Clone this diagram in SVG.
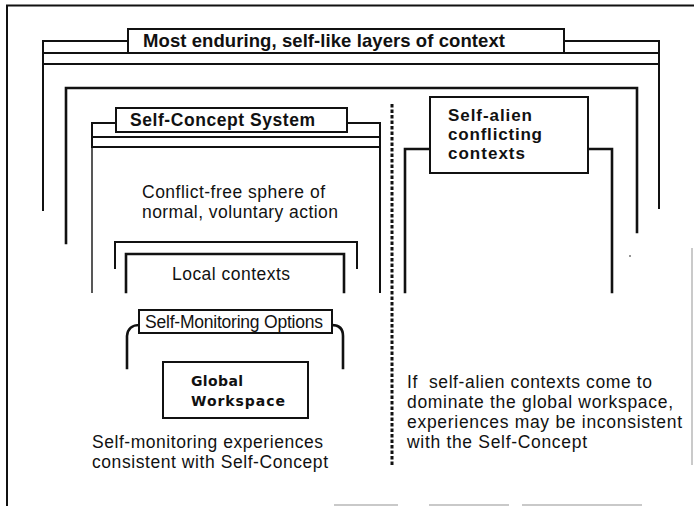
<svg xmlns="http://www.w3.org/2000/svg" width="694" height="506" viewBox="0 0 694 506">
<style>
.ln{fill:none;stroke:#111;stroke-width:2;stroke-linecap:square}
.thk{fill:none;stroke:#111;stroke-width:2.6;stroke-linecap:square}
.thin{fill:none;stroke:#111;stroke-width:1.4}
.faint{fill:none;stroke:#b8b8b8;stroke-width:1.5}
.box{fill:#fff;stroke:#111;stroke-width:2}
.t{font-family:"Liberation Sans",Arial,sans-serif;font-size:17.5px;fill:#111}
.b{font-family:"Liberation Sans",Arial,sans-serif;font-weight:bold;fill:#111}
.gw{font-family:"DejaVu Sans","Liberation Sans",sans-serif;font-weight:bold;font-size:14px;fill:#111}
.dots{fill:none;stroke:#111;stroke-width:3;stroke-dasharray:3.6 1.9}
</style>
<rect width="694" height="506" fill="#fff"/>
<g id="outer-frame">
<path class="ln" d="M7,505 V5.5 H694" stroke-width="1.8"/>
<path class="faint" d="M692,248 V465"/>
<path class="faint" d="M334,505 H398 M429,505 H509 M522,505 H642"/>
</g>
<g id="enduring-layers">
<path class="ln" d="M43,210 V41 H128 M564,41 H659 V208"/>
<path class="ln" d="M43,53 H659 M43,64 H659"/>
<rect class="box" x="128" y="29" width="436" height="24"/>
<text class="b" x="143" y="47" font-size="18.5" textLength="362">Most enduring, self-like layers of context</text>
</g>
<g id="second-layer">
<path class="thk" d="M66,243 V88 H637 V232"/>
</g>
<g id="self-concept-system">
<path class="ln" d="M92,147 V123 H116 M347,123 H380 V292"/>
<path class="ln" d="M92,137 H380 M92,147 H380"/>
<path class="thin" d="M92,147 V293"/>
<rect class="box" x="116" y="108" width="231" height="24"/>
<text class="b" x="130" y="126" font-size="17.5" textLength="185">Self-Concept System</text>
</g>
<g id="conflict-free-sphere">
<text class="t" x="142" y="198" textLength="183">Conflict-free sphere of</text>
<text class="t" x="142" y="218" textLength="196">normal, voluntary action</text>
</g>
<g id="local-contexts">
<path class="ln" d="M115,268 V242 H357 V268"/>
<path class="thk" d="M126,292 V254 H344 V292"/>
<text class="t" x="172" y="280" textLength="118">Local contexts</text>
</g>
<g id="self-monitoring-options">
<path class="thk" d="M139,325 Q128,325 127,336 V368 M332,325 Q343,325 343,336 V368"/>
<rect class="box" x="139" y="310" width="193" height="23"/>
<text class="t" x="145" y="328" font-size="14.5" textLength="178">Self-Monitoring Options</text>
</g>
<g id="global-workspace">
<rect class="box" x="163" y="362" width="145" height="56"/>
<text class="gw" x="191" y="386" textLength="52">Global</text>
<text class="gw" x="191" y="406" textLength="94">Workspace</text>
</g>
<g id="consistent-note">
<text class="t" x="92" y="448" textLength="231">Self-monitoring experiences</text>
<text class="t" x="92" y="468" textLength="236">consistent with Self-Concept</text>
</g>
<g id="self-alien-contexts">
<path class="thk" d="M405,292 V149 H430 M588,149 H612 V292"/>
<rect class="box" x="430" y="97" width="158" height="76"/>
<text class="b" x="448" y="121" font-size="17" textLength="84">Self-alien</text>
<text class="b" x="448" y="140" font-size="17" textLength="94">conflicting</text>
<text class="b" x="448" y="159" font-size="17" textLength="77">contexts</text>
<circle cx="630" cy="256" r="0.8" fill="#111"/>
</g>
<g id="inconsistent-note">
<text class="t" x="407" y="388" textLength="245" style="white-space:pre">If  self-alien contexts come to</text>
<text class="t" x="407" y="408" textLength="266">dominate the global workspace,</text>
<text class="t" x="407" y="428" textLength="275">experiences may be inconsistent</text>
<text class="t" x="407" y="448" textLength="180">with the Self-Concept</text>
</g>
<g id="connectors">
<path class="dots" d="M392,104 V466"/>
</g>
</svg>
